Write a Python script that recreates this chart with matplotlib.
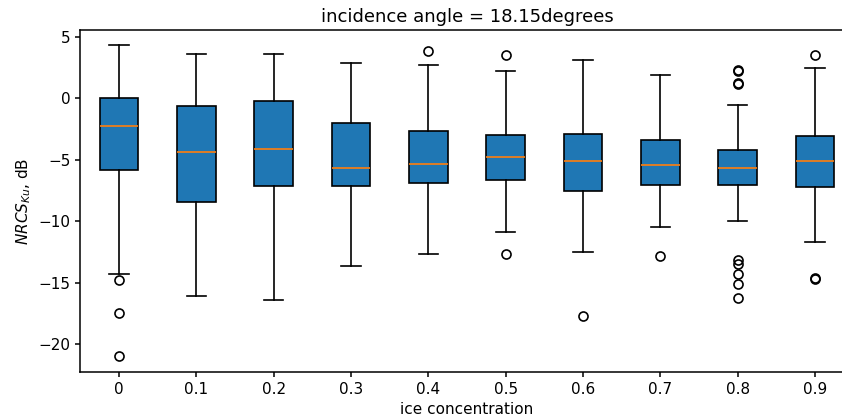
import matplotlib
matplotlib.use("Agg")
import matplotlib.pyplot as plt

categories = ["0", "0.1", "0.2", "0.3", "0.4", "0.5", "0.6", "0.7", "0.8", "0.9"]
whisker_low = [-14.28, -16.07, -16.42, -13.66, -12.66, -10.87, -12.47, -10.49, -9.95, -11.68]
q1 = [-5.83, -8.46, -7.13, -7.13, -6.86, -6.64, -7.51, -7.07, -7.07, -7.19]
median = [-2.28, -4.37, -4.10, -5.69, -5.34, -4.80, -5.10, -5.42, -5.69, -5.10]
q3 = [0.05, -0.60, -0.19, -2.03, -2.66, -3.01, -2.93, -3.37, -4.20, -3.09]
whisker_high = [4.31, 3.60, 3.60, 2.90, 2.68, 2.24, 3.11, 1.87, -0.57, 2.49]
fliers = [
    [-14.78, -17.43, -20.95],
    [],
    [],
    [],
    [3.87],
    [3.52, -12.66],
    [-17.70],
    [-12.82],
    [2.30, 2.18, 1.25, 1.15, -13.15, -13.50, -14.28, -15.10, -16.26],
    [3.52, -14.62, -14.70],
]

stats = []
for i, lab in enumerate(categories):
    stats.append(dict(label=lab, whislo=whisker_low[i], q1=q1[i], med=median[i],
                      q3=q3[i], whishi=whisker_high[i], fliers=fliers[i]))

plt.rcParams["font.size"] = 11
plt.rcParams["axes.linewidth"] = 1.1
plt.rcParams["xtick.major.width"] = 1.1
plt.rcParams["ytick.major.width"] = 1.1

fig = plt.figure(figsize=(8.42, 4.19), dpi=100)
ax = fig.add_axes([80.3 / 842, 47 / 419, 773.3 / 842, 342 / 419])
lw = 1.2
ax.bxp(stats, patch_artist=True,
       boxprops=dict(facecolor="#1f77b4", linewidth=lw),
       whiskerprops=dict(linewidth=lw),
       capprops=dict(linewidth=lw),
       flierprops=dict(markeredgewidth=lw, markersize=6.5),
       medianprops=dict(color="#ff7f0e", linewidth=lw))
ax.set_ylim(-22.25, 5.55)
ax.spines["right"].set_visible(False)
ax.set_title("incidence angle = 18.15degrees", fontsize=13)
ax.set_xlabel("ice concentration")
ax.set_ylabel("$NRCS_{Ku}$, dB")
fig.savefig("out.png", dpi=100)
